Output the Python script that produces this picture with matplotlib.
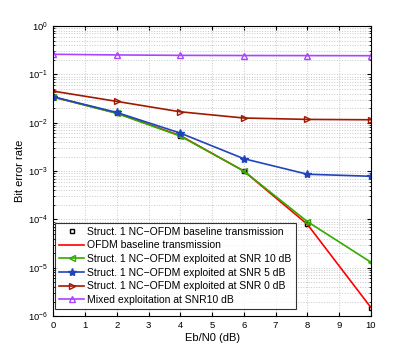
import numpy as np
import matplotlib
matplotlib.use("Agg")
import matplotlib.pyplot as plt
from matplotlib.ticker import LogLocator, NullFormatter

plt.rcParams["font.family"] = ["Liberation Sans", "DejaVu Sans"]

# Eb/N0 points (dB)
ebn0 = [0, 2, 4, 6, 8, 10]

# BER curves
ber_struct_base = [0.034, 0.0158, 0.0054, 1.0e-3, 7.9e-5, 1.5e-6]
ber_ofdm_base = [0.034, 0.0158, 0.0054, 1.0e-3, 7.9e-5, 1.5e-6]
ber_snr10 = [0.034, 0.0156, 0.0053, 1.0e-3, 9.0e-5, 1.3e-5]
ber_snr5 = [0.0344, 0.0163, 0.0061, 1.8e-3, 8.6e-4, 7.8e-4]
ber_snr0 = [0.045, 0.0276, 0.0168, 0.0125, 0.0117, 0.0115]
ber_mixed = [0.26, 0.252, 0.247, 0.245, 0.244, 0.243]

labels = [
    "Struct. 1 NC\u2212OFDM baseline transmission",
    "OFDM baseline transmission",
    "Struct. 1 NC\u2212OFDM exploited at SNR 10 dB",
    "Struct. 1 NC\u2212OFDM exploited at SNR 5 dB",
    "Struct. 1 NC\u2212OFDM exploited at SNR 0 dB",
    "Mixed exploitation at SNR10 dB",
]

fig = plt.figure(figsize=(4.09, 3.56), dpi=100)
ax = fig.add_axes([0.130, 0.112, 0.777, 0.815])

ax.semilogy(ebn0, ber_struct_base, "s", color="black", mfc="none", ms=3.5, mew=1.0,
            linestyle="none", label=labels[0])
ax.semilogy(ebn0, ber_ofdm_base, "-", color="red", lw=1.2, label=labels[1])
ax.semilogy(ebn0, ber_snr10, "-<", color="#33aa00", mfc="none", ms=5, lw=1.2, label=labels[2])
ax.semilogy(ebn0, ber_snr5, "-*", color="#2244bb", ms=6, lw=1.2, label=labels[3])
ax.semilogy(ebn0, ber_snr0, "->", color="#a01800", mfc="none", ms=5, lw=1.2, label=labels[4])
ax.semilogy(ebn0, ber_mixed, "-^", color="#aa44ff", mfc="none", ms=5, lw=1.2, label=labels[5])

ax.set_xlim(0, 10)
ax.set_ylim(1e-6, 1)
ax.set_xticks(range(0, 11))
ax.yaxis.set_major_locator(LogLocator(base=10, numticks=10))
ax.yaxis.set_minor_locator(LogLocator(base=10, subs=np.arange(2, 10), numticks=20))
ax.yaxis.set_minor_formatter(NullFormatter())

ax.grid(True, which="major", color="#c8c8c8", linestyle=":", lw=0.7)
ax.grid(True, which="minor", axis="y", color="#c8c8c8", linestyle=":", lw=0.7)
ax.tick_params(which="both", direction="in", top=True, right=True, labelsize=6.8)
ax.tick_params(which="major", length=3)
ax.tick_params(which="minor", length=1.5)
for s in ax.spines.values():
    s.set_linewidth(0.8)

ax.set_xlabel("Eb/N0 (dB)", fontsize=8, labelpad=2)
ax.set_ylabel("Bit error rate", fontsize=8, labelpad=2)

leg = ax.legend(loc="lower left", bbox_to_anchor=(0.006, 0.024), fontsize=7.5,
                frameon=True, fancybox=False, edgecolor="black", borderpad=0.4,
                labelspacing=0.35, handlelength=2.4, handletextpad=0.3,
                borderaxespad=0)
leg.get_frame().set_linewidth(0.8)

fig.savefig("out.png", dpi=100)
